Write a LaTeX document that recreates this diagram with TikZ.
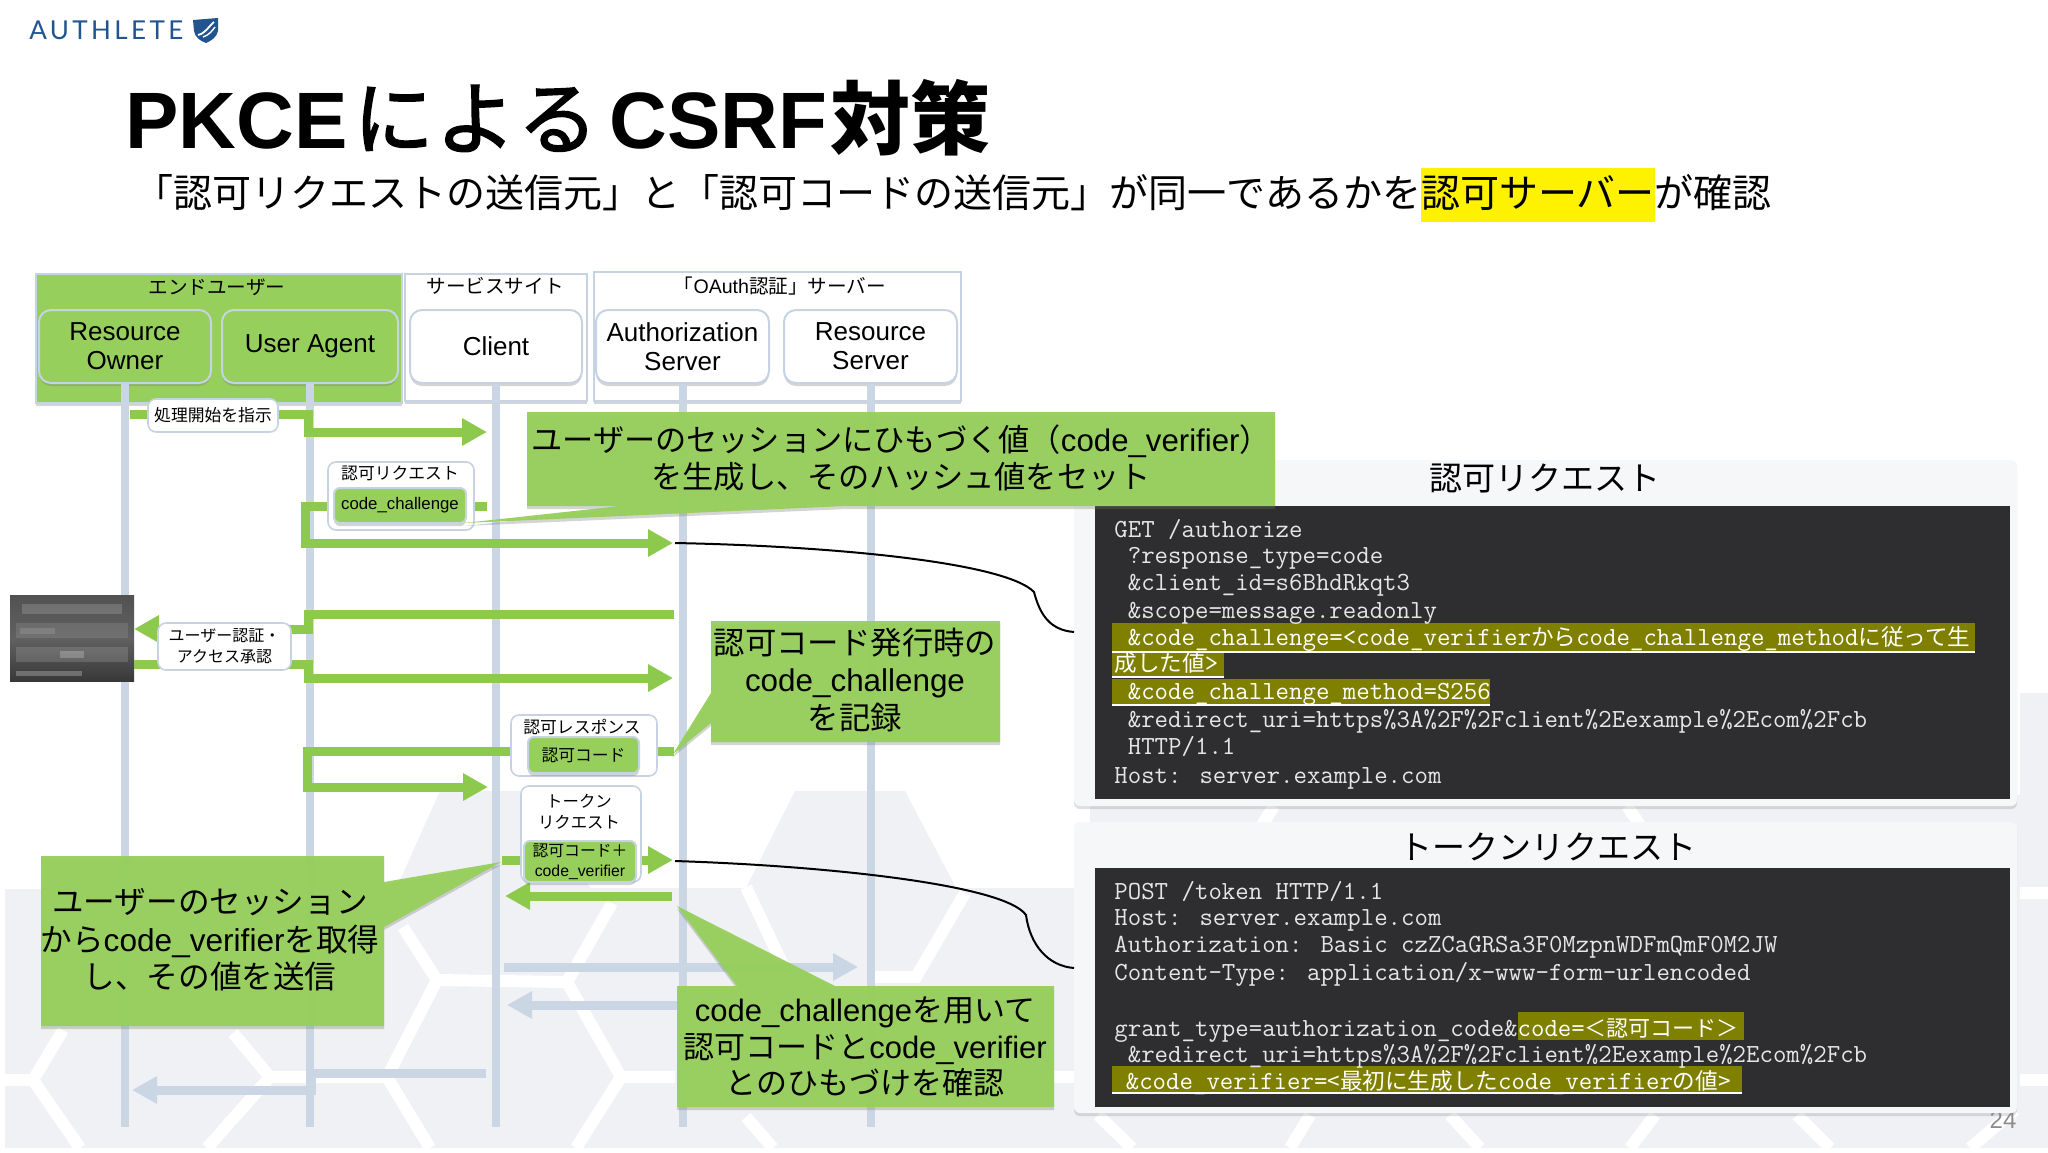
\documentclass[tikz,border=0pt]{standalone}
\usepackage{fontspec}
\usetikzlibrary{arrows.meta,shadows}
\setmainfont{Liberation Sans}
\newfontfamily\cjk{Noto Sans CJK JP}
\newfontfamily\cjkm[FakeBold=2]{Noto Sans CJK JP}
\newfontfamily\logofont[LetterSpace=13]{Lato}
\newcommand{\J}[1]{{\cjk #1}}
\newcommand{\fs}[2]{\fontsize{#1pt}{#2pt}\selectfont}
\newcommand{\CJ}[1]{{\cjk\fontsize{11.3pt}{13pt}\selectfont #1}}
\definecolor{grn}{HTML}{97CF5C}
\definecolor{grnl}{HTML}{8CC94C}
\definecolor{life}{HTML}{CBD6E5}
\definecolor{edgeb}{HTML}{C6D3E2}
\definecolor{olive}{HTML}{808000}
\definecolor{darkp}{HTML}{2E2E30}
\definecolor{bggray}{HTML}{F0F1F5}
\definecolor{codec}{HTML}{E6E6E6}
\definecolor{logob}{HTML}{22548F}
\tikzset{
  softshadow/.style={drop shadow={shadow xshift=0pt,shadow yshift=-1.5pt,opacity=.3,fill=black!55}},
  groupbox/.style={draw=edgeb,line width=1pt,fill=white,softshadow,inner sep=0pt},
  actor/.style={draw=edgeb,line width=1pt,rounded corners=6pt,fill=white,softshadow,align=center,inner sep=0pt,minimum height=36.5pt,font=\fs{13}{14.5}},
  actorg/.style={actor,fill=grn},
  lifeline/.style={draw=life,line width=4pt},
  flow/.style={draw=grnl,line width=4.5pt,-{Triangle[length=12.5pt,width=13pt]},line join=miter},
  flowgray/.style={draw=life,line width=4.5pt,-{Triangle[length=12.5pt,width=13pt]},line join=miter},
  lab/.style={draw=edgeb,line width=.8pt,rounded corners=4pt,fill=white,inner sep=0pt,align=center,font=\fs{8.4}{10.5}},
  labin/.style={draw=edgeb,line width=1pt,rounded corners=3pt,fill=grn,inner sep=0pt,align=center,softshadow,font=\fs{8.4}{10}},
  plain/.style={inner sep=0pt,align=center},
  callout/.style={fill=grn,fill opacity=.96,softshadow},
  callt/.style={inner sep=0pt,align=center,font=\fs{15.6}{18.6}},
  panel/.style={fill=bggray!60!white,rounded corners=3pt,drop shadow={shadow xshift=0pt,shadow yshift=-1.5pt,opacity=.25,fill=black!50}},
  code/.style={anchor=base west,inner sep=0pt,text=codec,font=\fs{13.05}{13}\ttfamily},
  hlu/.style={draw=white,line width=1pt},
  ptitle/.style={inner sep=0pt,font=\fs{16.5}{18}},
  curve/.style={draw=black,line width=1pt},
}
\begin{document}
\begin{tikzpicture}[x=0.5pt,y=-0.5pt]
\useasboundingbox (0,0) rectangle (2048,1152);
\fill[white] (0,0) rectangle (2048,1152);
% background watermark
\fill[bggray] (5,889) -- (396,889) -- (440,791) -- (545,791) -- (590,888) -- (746,888) -- (795,791) -- (905,791) -- (956,888) -- (1090,888) -- (1090,795) -- (2020,795) -- (2020,693) -- (2048,693) -- (2048,1148) -- (5,1148) -- cycle;
\begin{scope}[draw=white,line width=6pt]
\draw (5,1080) -- (33,1080) -- (63,1030);
\draw (33,1080) -- (80,1148);
\draw (233,1033) -- (270,1077) -- (387,1077) -- (437,980) -- (567,982) -- (612,903);
\draw (403,927) -- (437,980);
\draw (270,1077) -- (207,1148);
\draw (387,1077) -- (430,1148);
\draw (567,982) -- (621,1077) -- (675,1077);
\draw (621,1077) -- (576,1148);
\draw (746,887) -- (790,980);
\draw (746,1117) -- (773,1148);
\draw (965,893) -- (916,977) -- (871,977);
\draw (1054,1077) -- (1100,1077);
\draw (1098,1115) -- (1132,1148);
\draw (1310,1115) -- (1290,1148);
\draw (1450,1115) -- (1480,1148);
\draw (1655,1115) -- (1630,1148);
\draw (1797,1115) -- (1830,1148);
\draw (2020,893) -- (2048,893);
\draw (2020,1080) -- (2048,1080);
\draw (2015,1110) -- (1970,1148);
\draw (1274,806) -- (1262,825);
\draw (1627,806) -- (1640,825);
\end{scope}
% logo
\node[plain,anchor=base west,text=logob] (logotxt) at (29,39) {\logofont\fs{13}{13}AUTHLETE};
\fill[logob] (193,20) -- (218,18) -- (218,31) .. controls (217,37) and (211,41) .. (206,43) .. controls (200,41) and (195,37) .. (194,31) -- cycle;
\draw[white,line width=.9pt] (198,35) .. controls (206,33) and (208,27) .. (214,22);
\draw[white,line width=.7pt] (203,37) .. controls (209,35) and (212,31) .. (215,27);
% title
\node[plain,anchor=base west] (title) at (125,148) {\fs{40}{40}\bfseries PKCE\hspace{3pt}{\cjkm\mdseries に\hspace{1pt}よ\hspace{1pt}る}\hspace{6pt}CSRF\hspace{1.5pt}{\cjk\bfseries 対策}};
\fill[yellow] (1421,168) rectangle (1655,222);
\node[plain,anchor=west] (subtitle) at (134,193) {\cjk\fs{19.5}{20}「認可リクエストの送信元」と「認可コードの送信元」が同一であるかを認可サーバーが確認};
% page number
\node[plain,text=black!45] (pnum) at (2003,1120) {\fs{12}{12}24};
% panels
\node[panel,minimum width=471.5pt,minimum height=173pt,inner sep=0pt] (p1) at (1545.5,633) {};
\fill[darkp] (1095,506) rectangle (2010,799);
\node[ptitle] (p1t) at (1545,478) {\J{認可リクエスト}};
\node[panel,minimum width=471.5pt,minimum height=145.5pt,inner sep=0pt] (p2) at (1545.5,967.5) {};
\fill[darkp] (1095,868) rectangle (2010,1107);
\node[ptitle] (p2t) at (1548,847) {\J{トークンリクエスト}};
% code panel 1
\fill[olive] (1112,623) rectangle (1975,652);
\fill[olive] (1112,652) rectangle (1224,677);
\fill[olive] (1112,679) rectangle (1490,705);
\draw[hlu] (1112,652) -- (1975,652);
\draw[hlu] (1112,677) -- (1224,677);
\draw[hlu] (1112,705) -- (1490,705);
\node[code] (c1) at (1114,537) {GET /authorize};
\node[code] (c2) at (1114,563) {\ ?response\_type=code};
\node[code] (c3) at (1114,590) {\ \&client\_id=s6BhdRkqt3};
\node[code] (c4) at (1114,618) {\ \&scope=message.readonly};
\node[code,text=white] (c5) at (1114,645) {\ \&code\_challenge=<code\_verifier\CJ{から}code\_challenge\_method\CJ{に従って生}};
\node[code,text=white] (c6) at (1114,671) {\CJ{成した値}>};
\node[code,text=white] (c7) at (1114,699) {\ \&code\_challenge\_method=S256};
\node[code] (c8) at (1114,727) {\ \&redirect\_uri=https\%3A\%2F\%2Fclient\%2Eexample\%2Ecom\%2Fcb};
\node[code] (c9) at (1114,754) {\ HTTP/1.1};
\node[code] (c10) at (1114,783) {Host: server.example.com};
% code panel 2
\fill[olive] (1518,1012) rectangle (1744,1040);
\fill[olive] (1112,1066) rectangle (1742,1093);
\draw[hlu] (1112,1093) -- (1742,1093);
\node[code] (d1) at (1114,899) {POST /token HTTP/1.1};
\node[code] (d2) at (1114,925) {Host: server.example.com};
\node[code] (d3) at (1114,952) {Authorization: Basic czZCaGRSa3F0MzpnWDFmQmF0M2JW};
\node[code] (d4) at (1114,980) {Content-Type: application/x-www-form-urlencoded};
\node[code] (d5) at (1114,1036) {grant\_type=authorization\_code\&{\color{white}code={\cjk\fontsize{11pt}{13pt}\selectfont ＜認可コード＞}}};
\node[code] (d6) at (1114,1062) {\ \&redirect\_uri=https\%3A\%2F\%2Fclient\%2Eexample\%2Ecom\%2Fcb};
\node[code,text=white] (d7) at (1112,1089) {\ \&code\_verifier=\CJ{<最初に生成した}code\_verifier\CJ{の値>}};
% groups
\node[groupbox,fill=grn,minimum width=183pt,minimum height=64.5pt] (eu) at (219,338.5) {};
\node[groupbox,minimum width=91pt,minimum height=63.5pt] (svc) at (496,337.5) {};
\node[groupbox,minimum width=183.5pt,minimum height=64.5pt] (oa) at (777.5,336.5) {};
\node[plain,font=\fs{9.8}{10}] (eut) at (217,287) {\J{エンドユーザー}};
\node[plain,font=\fs{9.8}{10}] (svct) at (495,286) {\J{サービスサイト}};
\node[plain,font=\fs{9.8}{10}] (oat) at (780,286) {\J{「}OAuth\J{認証」サーバー}};
% actors
\node[actorg,minimum width=86pt] (ro) at (125,346.5) {Resource\\Owner};
\node[actorg,minimum width=88pt] (ua) at (310,346.5) {User Agent};
\node[actor,minimum width=86pt] (cl) at (496,346.5) {Client};
\node[actor,minimum width=86.5pt] (as) at (682.5,346.5) {Authorization\\Server};
\node[actor,minimum width=86.5pt] (rs) at (870.5,346.5) {Resource\\Server};
% lifelines
\coordinate (bot) at (0,1127);
\foreach \n in {ro,ua,cl,as,rs} \draw[lifeline] (\n.south) -- (\n.south |- bot);
% screenshot
\node[inner sep=0pt,minimum width=62pt,minimum height=43pt,top color=black!68,bottom color=black!78,middle color=black!62] (shot) at (72,638) {};
\fill[white,opacity=.16] (22,604) rectangle (122,614);
\fill[white,opacity=.1] (16,623) rectangle (128,638);
\fill[white,opacity=.12] (20,628) rectangle (55,634);
\fill[white,opacity=.14] (16,647) rectangle (128,662);
\fill[white,opacity=.22] (60,651) rectangle (84,658);
\fill[white,opacity=.25] (16,671) rectangle (82,676);
% arrows
\coordinate (a1s) at (130,414); \coordinate (a1e) at (487,432);
\draw[flow] (a1s) -- (308,414) -- (308,432) -- (a1e);
\coordinate (a2s) at (487,506); \coordinate (a2e) at (673,543);
\draw[flow] (a2s) -- (305,506) -- (305,543) -- (a2e);
\coordinate (a3s) at (674,614); \coordinate (a3e) at (134,629);
\draw[flow] (a3s) -- (308,614) -- (308,629) -- (a3e);
\coordinate (a4s) at (134,664); \coordinate (a4e) at (673,678);
\draw[flow] (a4s) -- (308,664) -- (308,678) -- (a4e);
\coordinate (a5s) at (674,751); \coordinate (a5e) at (488,787);
\draw[flow] (a5s) -- (307,751) -- (307,787) -- (a5e);
\coordinate (a6s) at (502,860); \coordinate (a6e) at (673,860);
\draw[flow] (a6s) -- (a6e);
\coordinate (a7s) at (672,896); \coordinate (a7e) at (505,896);
\draw[flow] (a7s) -- (a7e);
\coordinate (a8s) at (504,967); \coordinate (a8e) at (858,967);
\draw[flowgray] (a8s) -- (a8e);
\coordinate (a9s) at (677,1005); \coordinate (a9e) at (507,1005);
\draw[flowgray] (a9s) -- (a9e);
\coordinate (a10s) at (486,1073); \coordinate (a10e) at (132,1090);
\draw[flowgray] (a10s) -- (311,1073) -- (311,1090) -- (a10e);
% labels on arrows
\node[lab,minimum width=65pt,minimum height=16.5pt] (l1) at (213,415.5) {\J{処理開始を指示}};
\node[lab,minimum width=73pt,minimum height=34pt] (l2) at (401,496) {};
\node[plain,font=\fs{8.4}{10}] (l2t) at (400,473) {\J{認可リクエスト}};
\node[labin,minimum width=66pt,minimum height=17.5pt] (l2i) at (400,505.5) {code\_challenge};
\node[lab,minimum width=66.5pt,minimum height=23.5pt,font=\fs{8}{10.5}] (l3) at (224.5,646.5) {\J{ユーザー認証・}\\\J{アクセス承認}};
\node[lab,minimum width=73pt,minimum height=30.5pt] (l4) at (584,745.5) {};
\node[plain,font=\fs{8.4}{10}] (l4t) at (582,727) {\J{認可レスポンス}};
\node[labin,minimum width=55.5pt,minimum height=18pt] (l4i) at (583.5,755) {\J{認可コード}};
\node[lab,minimum width=60pt,minimum height=48pt] (l5) at (581,834) {};
\node[plain,font=\fs{8.2}{10.5}] (l5t) at (579,811.5) {\J{トークン}\\\J{リクエスト}};
\node[labin,minimum width=56pt,minimum height=20.5pt,font=\fs{7.9}{10}] (l5i) at (580,861.5) {\J{認可コード＋}\\code\_verifier};
% callouts
\fill[callout] (527,412) -- (1275,412) -- (1275,506) -- (846,506) -- (464,523) -- (620,506) -- (527,506) -- cycle;
\node[callt] (k1) at (901,458) {\J{ユーザーのセッションにひもづく値（}code\_verifier\J{）}\\\J{を生成し、そのハッシュ値をセット}};
\fill[callout] (711,621) -- (1000,621) -- (1000,742) -- (711,742) -- (711,723) -- (673,754) -- (711,693) -- cycle;
\node[callt,font=\fs{15.7}{18.6}] (k2) at (855,680) {\J{認可コード発行時の}\\code\_challenge\\\J{を記録}};
\fill[callout] (41,856) -- (384,856) -- (384,882) -- (501,862) -- (384,927) -- (384,1026) -- (41,1026) -- cycle;
\node[callt,font=\fs{15.8}{18.7}] (k3) at (210,940) {\J{ユーザーのセッション}\\\J{から}code\_verifier\J{を取得}\\\J{し、その値を送信}};
\fill[callout] (677,986) -- (737,986) -- (677,906) -- (835,986) -- (1054,986) -- (1054,1107) -- (677,1107) -- cycle;
\node[callt,font=\fs{15.5}{18.3}] (k4) at (865,1047) {code\_challenge\J{を用いて}\\\J{認可コードと}code\_verifier\\\J{とのひもづけを確認}};
% curves
\coordinate (r1a) at (675,543); \coordinate (r1b) at (1074,632);
\draw[curve] (r1a) .. controls (830,546) and (1005,562) .. (1034,592) .. controls (1040,615) and (1050,630) .. (r1b);
\coordinate (r2a) at (675,861); \coordinate (r2b) at (1074,968);
\draw[curve] (r2a) .. controls (830,866) and (1005,885) .. (1026,915) .. controls (1030,945) and (1048,966) .. (r2b);
\end{tikzpicture}
\end{document}
